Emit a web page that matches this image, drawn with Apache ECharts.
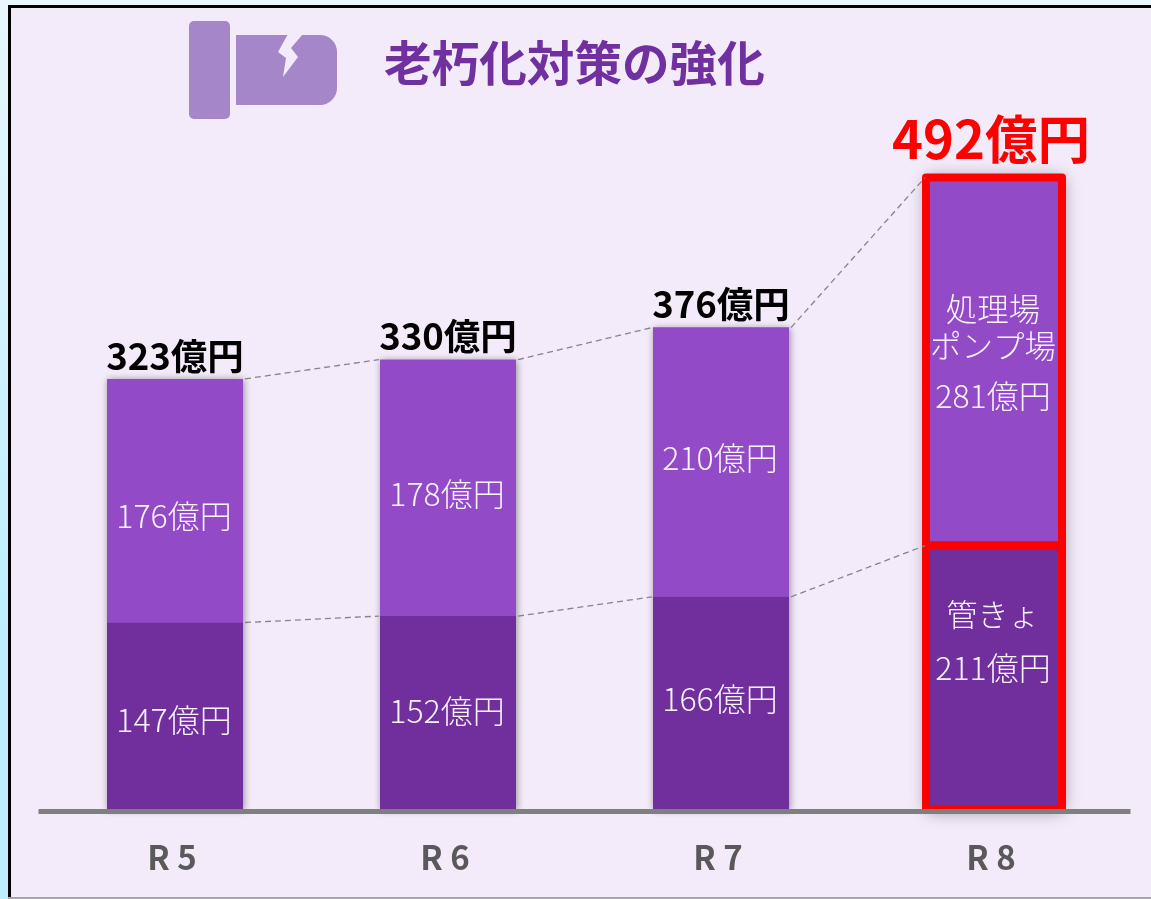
<!DOCTYPE html>
<html lang="ja">
  <head>
    <meta charset="UTF-8" />
    <title>老朽化対策の強化</title>
    <style type="text/css">
      html, body {
        margin: 0;
        padding: 0;
        background: linear-gradient(#e8f7fd, #bdeeff 70%);
      }

      #main {
        width: 1151px;
        height: 899px;
      }
    </style>
  </head>
  <body>
    <div id="main"></div>
    <script src="https://cdnjs.cloudflare.com/ajax/libs/echarts/6.0.0/echarts.min.js"></script>
    <script type="text/javascript">
      var categories = ["R 5", "R 6", "R 7", "R 8"];

      // printed amounts (億円)
      var pipeValues = [147, 152, 166, 211];
      var plantValues = [176, 178, 210, 281];
      var totalValues = [323, 330, 376, 492];

      // bar heights as drawn in the picture, they are not quite to scale with the printed amounts
      var pipeHeights = [147, 152, 167, 207];
      var plantHeights = [190, 200, 210, 287];

      // only the last year gets the red frame
      var framed = [false, false, false, true];

      var FONT = '"Noto Sans CJK JP", "Noto Sans", sans-serif';
      var PURPLE_DARK = "#702f9c";
      var PURPLE = "#934ac6";
      var PANEL = "#f3eafa";
      var ICON = "#a486c9";
      var LABEL = "#faf4fe";
      var BAR_WIDTH = 136;
      var RED = "#ff0000";

      var totalHeights = pipeHeights.map(function (v, i) {
        return v + plantHeights[i];
      });

      var chartDom = document.getElementById("main");
      var myChart = echarts.init(chartDom);

      // dashed lines between neighbouring bars
      function connector(heights) {
        return function (params, api) {
          var i = params.dataIndex;
          if (i >= categories.length - 1) return;
          var a = api.coord([i, heights[i]]);
          var b = api.coord([i + 1, heights[i + 1]]);
          return {
            type: "line",
            shape: {
              x1: a[0] + BAR_WIDTH / 2 + 2,
              y1: a[1],
              x2: b[0] - BAR_WIDTH / 2 - 1,
              y2: b[1],
            },
            style: { stroke: "#858585", lineWidth: 1.3, lineDash: [6, 4] },
          };
        };
      }

      // red outline around one stacked segment
      function frame(bottoms, tops) {
        return function (params, api) {
          var i = params.dataIndex;
          if (!framed[i]) return;
          var a = api.coord([i, bottoms[i]]);
          var b = api.coord([i, tops[i]]);
          return {
            type: "rect",
            shape: {
              x: a[0] - BAR_WIDTH / 2,
              y: b[1],
              width: BAR_WIDTH,
              height: a[1] - b[1],
            },
            style: { fill: "none", stroke: RED, lineWidth: 8, lineJoin: "round" },
          };
        };
      }

      function insideLabels(values, offsets) {
        return values.map(function (v, i) {
          return {
            show: true,
            position: "inside",
            offset: offsets[i],
            formatter: v + "億円",
            color: LABEL,
            fontFamily: FONT,
            fontSize: 32,
            fontWeight: 300,
          };
        });
      }

      var pipeLabels = insideLabels(pipeValues, [[-1, 3], [-1, -3], [-1, -5], [0, 0]]);
      var plantLabels = insideLabels(plantValues, [[-1, 15], [-1, 6], [-1, -4], [0, 0]]);

      pipeLabels[3].offset = [-1, -30];
      pipeLabels[3].formatter = "{a|管きょ}\n{b|211億円}";
      pipeLabels[3].rich = {
        a: { lineHeight: 40, fontSize: 31, color: LABEL, fontFamily: FONT, fontWeight: 300 },
        b: { lineHeight: 69, fontSize: 32, color: LABEL, fontFamily: FONT, fontWeight: 300 },
      };
      plantLabels[3].offset = [-1, -3];
      plantLabels[3].formatter = "{a|処理場}\n{a|ポンプ場}\n{b|281億円}";
      plantLabels[3].rich = {
        a: { lineHeight: 37, fontSize: 31.5, color: LABEL, fontFamily: FONT, fontWeight: 300 },
        b: { lineHeight: 63, fontSize: 32, color: LABEL, fontFamily: FONT, fontWeight: 300 },
      };

      function barData(heights, labels, color) {
        return heights.map(function (h, i) {
          return { value: h, label: labels[i], itemStyle: { color: color } };
        });
      }

      var option = {
        animation: false,
        grid: { left: 38.5, width: 1092, top: 16, height: 795 },
        xAxis: {
          type: "category",
          data: categories,
          z: 5,
          axisTick: { show: false },
          axisLine: { lineStyle: { color: "#7f7f7f", width: 5, cap: "butt" } },
          axisLabel: {
            margin: 30,
            padding: [0, 6, 0, 0],
            color: "#595959",
            fontFamily: FONT,
            fontWeight: "bold",
            fontSize: 33,
          },
        },
        yAxis: { type: "value", min: 0, max: 620, show: false },
        graphic: [
          // panel, black edge on top and left only
          {
            type: "rect",
            z: -10,
            shape: { x: 8, y: 5, width: 1143, height: 892 },
            style: { fill: "#000" },
          },
          {
            type: "rect",
            z: -10,
            shape: { x: 11, y: 8, width: 1140, height: 889 },
            style: { fill: PANEL },
          },
          {
            type: "rect",
            z: -9,
            shape: { x: 8, y: 897, width: 1143, height: 2 },
            style: { fill: "#a8a3ad" },
          },
          // icon
          {
            type: "rect",
            z: -9,
            shape: { x: 189, y: 21, width: 41, height: 98, r: 5 },
            style: { fill: ICON },
          },
          {
            type: "rect",
            z: -9,
            shape: { x: 236, y: 35, width: 101, height: 70, r: [0, 17, 17, 0] },
            style: { fill: ICON },
          },
          {
            type: "polygon",
            z: -8,
            shape: {
              points: [[288, 34], [278, 52], [286, 58], [283, 77], [298, 57], [291, 48], [303, 34]],
            },
            style: { fill: PANEL },
          },
          {
            type: "text",
            z: 10,
            x: 384,
            y: 63,
            style: {
              text: "老朽化対策の強化",
              fill: "#7030a0",
              font: "bold 47.6px " + FONT,
              verticalAlign: "middle",
            },
          },
        ],
        series: [
          {
            name: "管きょ",
            type: "bar",
            stack: "cost",
            z: 2,
            barWidth: BAR_WIDTH,
            data: barData(pipeHeights, pipeLabels, PURPLE_DARK),
          },
          {
            name: "処理場・ポンプ場",
            type: "bar",
            stack: "cost",
            z: 2,
            barWidth: BAR_WIDTH,
            data: barData(plantHeights, plantLabels, PURPLE),
          },
          {
            // sits behind the stack, casts the shadow and carries the total label
            name: "合計",
            type: "bar",
            barGap: "-100%",
            barWidth: BAR_WIDTH,
            z: 1,
            data: totalHeights.map(function (h, i) {
              var last = i === categories.length - 1;
              return {
                value: h,
                itemStyle: {
                  color: PURPLE,
                  shadowBlur: framed[i] ? 16 : 7,
                  shadowColor: "rgba(0,0,0,0.4)",
                  shadowOffsetX: 1,
                },
                label: {
                  show: true,
                  position: "top",
                  distance: last ? 12 : 5,
                  offset: last ? [-3, 0] : [0, 0],
                  formatter: totalValues[i] + "億円",
                  color: last ? RED : "#000",
                  fontFamily: FONT,
                  fontWeight: "bold",
                  fontSize: last ? 52.5 : 36.5,
                },
              };
            }),
          },
          {
            type: "custom",
            z: 3,
            silent: true,
            data: pipeHeights,
            // frame bottom stops just above the axis zero so it shows only a sliver under the line
            renderItem: frame(
              pipeHeights.map(function () {
                return 1.5;
              }),
              pipeHeights
            ),
          },
          {
            type: "custom",
            z: 3,
            silent: true,
            data: plantHeights,
            renderItem: frame(pipeHeights, totalHeights),
          },
          {
            type: "custom",
            z: 4,
            silent: true,
            data: totalHeights,
            renderItem: connector(totalHeights),
          },
          {
            type: "custom",
            z: 4,
            silent: true,
            data: pipeHeights,
            renderItem: connector(pipeHeights),
          },
        ],
      };

      myChart.setOption(option);
    </script>
  </body>
</html>
